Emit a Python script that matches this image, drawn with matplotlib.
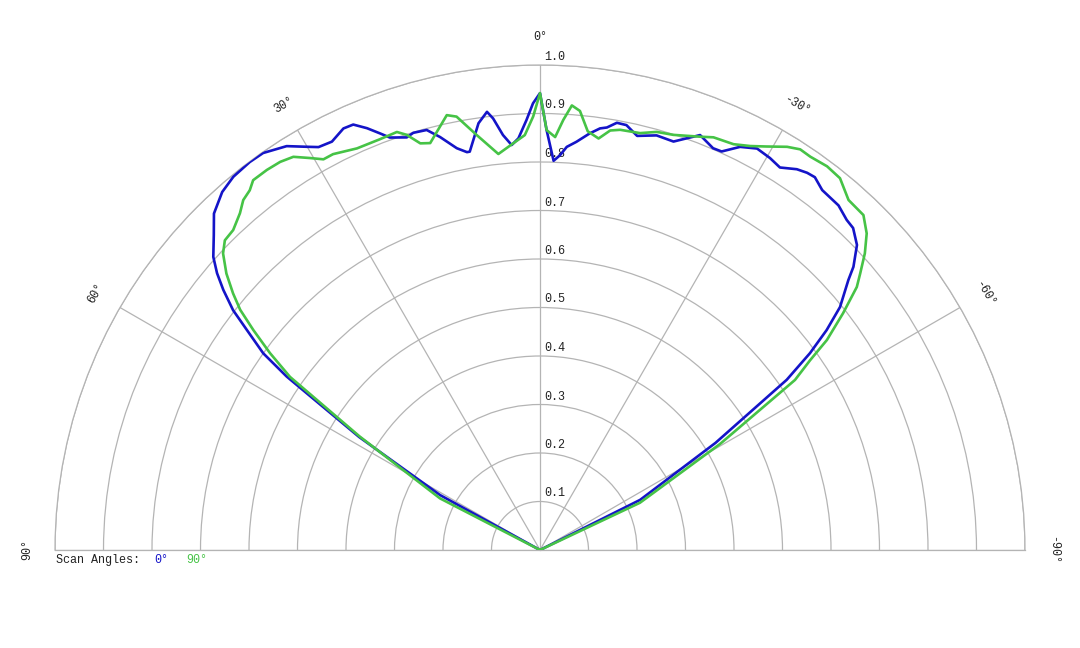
import numpy as np
import matplotlib
matplotlib.use("Agg")
import matplotlib.pyplot as plt

# ---- data (angle in degrees, normalized amplitude) ----
blue_theta_deg = [62.5, 61.2, 58.0, 55.6, 54.6, 53.1, 52.0, 50.6, 49.4, 48.1, 46.0, 44.1,
                  41.6, 39.4, 36.8, 34.9, 32.1, 30.1, 28.8, 27.0, 25.0, 23.7, 22.3, 21.0,
                  20.0, 17.9, 16.9, 15.1, 13.6, 11.7, 10.4, 10.0, 8.2, 6.9, 6.2, 5.1, 4.0,
                  3.0, 1.8, 0.9, 0.0, -0.9, -2.0, -2.9, -3.8, -5.1, -6.8, -8.1, -9.0,
                  -10.2, -11.5, -13.2, -15.7, -18.1, -19.6, -21.1, -23.3, -24.5, -26.4,
                  -28.4, -30.4, -32.1, -34.0, -35.3, -36.4, -38.1, -40.9, -42.9, -44.2,
                  -46.1, -47.9, -48.8, -51.0, -52.5, -53.9, -55.4, -58.6, -63.4, -64.0]
blue_r = [0.0, 0.235, 0.44, 0.633, 0.700, 0.756, 0.803, 0.845, 0.877, 0.905, 0.935, 0.966,
          0.987, 0.996, 0.999, 0.998, 0.983, 0.961, 0.948, 0.945, 0.959, 0.958, 0.940, 0.920,
          0.905, 0.894, 0.899, 0.897, 0.876, 0.846, 0.834, 0.834, 0.889, 0.910, 0.895, 0.859,
          0.837, 0.850, 0.887, 0.921, 0.942, 0.866, 0.803, 0.815, 0.833, 0.845, 0.865, 0.878,
          0.882, 0.895, 0.894, 0.877, 0.888, 0.886, 0.901, 0.917, 0.902, 0.903, 0.928, 0.941,
          0.937, 0.931, 0.947, 0.953, 0.955, 0.943, 0.940, 0.929, 0.926, 0.907, 0.871, 0.845,
          0.796, 0.745, 0.689, 0.618, 0.424, 0.231, 0.0]

green_theta_deg = [62.8, 62.7, 57.8, 55.3, 53.9, 52.5, 51.3, 50.1, 48.6, 46.9, 45.5, 43.8,
                   41.7, 40.3, 38.9, 37.8, 35.7, 33.8, 32.1, 30.4, 29.0, 27.6, 24.5, 21.3,
                   18.9, 17.8, 16.4, 15.1, 12.1, 10.9, 8.7, 6.0, 3.8, 2.1, 0.9, 0.0, -0.9,
                   -2.1, -3.1, -4.1, -5.2, -6.5, -8.1, -9.5, -10.8, -13.5, -15.6, -17.8,
                   -19.5, -21.2, -22.8, -25.5, -27.5, -29.3, -31.5, -33.0, -34.5, -36.8,
                   -38.9, -41.4, -44.0, -45.9, -47.6, -49.2, -50.3, -52.0, -53.8, -54.9,
                   -56.3, -59.5, -64.7, -65.0]
green_r = [0.0, 0.232, 0.44, 0.627, 0.689, 0.745, 0.792, 0.825, 0.862, 0.895, 0.911, 0.914,
           0.930, 0.946, 0.953, 0.965, 0.965, 0.963, 0.957, 0.937, 0.921, 0.921, 0.910, 0.909,
           0.911, 0.899, 0.874, 0.869, 0.917, 0.910, 0.866, 0.821, 0.840, 0.856, 0.894, 0.942,
           0.866, 0.852, 0.888, 0.919, 0.909, 0.869, 0.857, 0.877, 0.882, 0.884, 0.895, 0.899,
           0.906, 0.914, 0.923, 0.927, 0.939, 0.954, 0.975, 0.985, 0.984, 0.988, 0.985, 0.962,
           0.960, 0.938, 0.907, 0.872, 0.849, 0.793, 0.733, 0.681, 0.632, 0.431, 0.228, 0.0]

r_ticks = [0.1, 0.2, 0.3, 0.4, 0.5, 0.6, 0.7, 0.8, 0.9, 1.0]
r_tick_labels = ["0.1", "0.2", "0.3", "0.4", "0.5", "0.6", "0.7", "0.8", "0.9", "1.0"]
theta_ticks = [90, 60, 30, 0, -30, -60, -90]
theta_labels = ["90°", "60°", "30°", "0°", "-30°", "-60°", "-90°"]
legend_title = "Scan Angles:"
series_names = ["0°", "90°"]

# ---- style ----
FONT = ["Liberation Mono", "DejaVu Sans Mono"]
BLUE = "#1414c8"
GREEN = "#46c346"
GRID = "#b4b4b4"
FS = 8.5

fig = plt.figure(figsize=(10.8, 6.48), dpi=100)
fig.patch.set_facecolor("white")
ax = fig.add_axes([55 / 1080, (648 - 792.5) / 648, 970 / 1080, 970 / 648], projection="polar")
ax.set_thetamin(-90)
ax.set_thetamax(90)
ax.set_theta_zero_location("N")
ax.set_theta_direction(1)
ax.set_rlim(0, 1)
ax.set_rticks(r_ticks)
ax.set_yticklabels([])
ax.set_xticks(np.deg2rad(theta_ticks))
ax.set_xticklabels([])
ax.tick_params(length=0)
ax.grid(True, color=GRID, linewidth=0.9)
for sp in ax.spines.values():
    sp.set_color(GRID)
    sp.set_linewidth(0.9)

for a, lab in zip(theta_ticks, theta_labels):
    ax.text(np.deg2rad(a), 1.058, lab, rotation=a, rotation_mode="anchor",
            ha="center", va="center", fontsize=FS, family=FONT, color="#222222",
            clip_on=False)

for v, lab in zip(r_ticks, r_tick_labels):
    ax.annotate(lab, xy=(0, v), xytext=(4, 5), textcoords="offset pixels",
                ha="left", va="baseline", fontsize=FS, family=FONT, color="#222222",
                zorder=1, annotation_clip=False)

ax.plot(np.deg2rad(blue_theta_deg), blue_r, color=BLUE, lw=1.9, zorder=3,
        solid_joinstyle="round")
ax.plot(np.deg2rad(green_theta_deg), green_r, color=GREEN, lw=1.9, zorder=3,
        solid_joinstyle="round")

fig.text(56 / 1080, 1 - 560 / 648, legend_title, fontsize=FS, family=FONT,
         color="#222222", ha="left", va="center")
fig.text(154 / 1080, 1 - 560 / 648, series_names[0], fontsize=FS, family=FONT,
         color=BLUE, ha="left", va="center")
fig.text(186 / 1080, 1 - 560 / 648, series_names[1], fontsize=FS, family=FONT,
         color=GREEN, ha="left", va="center")

fig.savefig("out.png", dpi=100, facecolor="white")
